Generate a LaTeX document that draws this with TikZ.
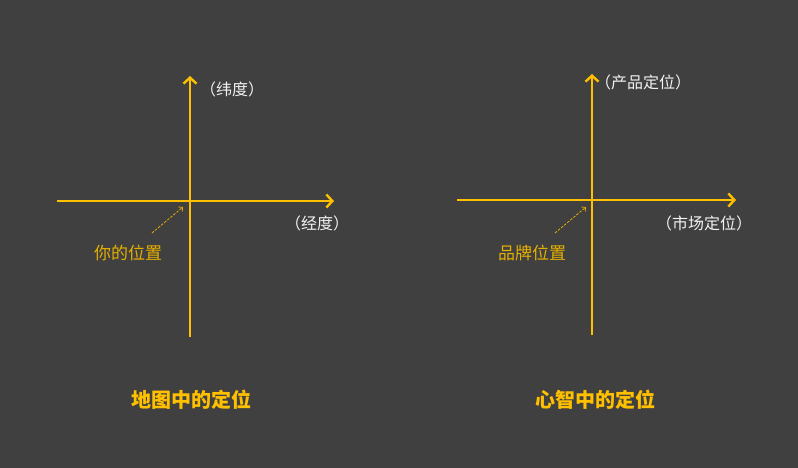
\documentclass[tikz,border=0pt]{standalone}
\usepackage{fontspec}
\newfontfamily\cjk{Noto Sans CJK SC}
\usetikzlibrary{arrows.meta}
\definecolor{bg}{HTML}{404040}
\definecolor{axisyellow}{HTML}{FFC000}
\definecolor{labelwhite}{HTML}{F2F2F2}
\definecolor{posyellow}{HTML}{E6B000}
\tikzset{
  axis/.style={draw=axisyellow, line width=2.8pt, -{Straight Barb[length=6pt,width=13pt,line width=2.4pt]}},
  pointer/.style={draw=posyellow, line width=0.8pt, dash pattern=on 2.5pt off 1.5pt, -{Straight Barb[length=3pt,width=6pt,line width=0.8pt]}},
  axislabel/.style={text=labelwhite, font=\cjk\fontsize{16pt}{16pt}\selectfont, inner sep=0pt},
  poslabel/.style={text=posyellow, font=\cjk\fontsize{17pt}{17pt}\selectfont, inner sep=0pt},
  titlelabel/.style={text=axisyellow, font=\cjk\bfseries\fontsize{20pt}{20pt}\selectfont, inner sep=0pt}
}
\begin{document}
\begin{tikzpicture}[x=1pt,y=-1pt]
\fill[bg] (0,0) rectangle (798,468);
\useasboundingbox (0,0) rectangle (798,468);
% left diagram
\coordinate (lvb) at (190,337);
\coordinate (lvt) at (190,76);
\coordinate (lhl) at (57,201);
\coordinate (lhr) at (334,201);
\draw[axis] (lvb) -- (lvt);
\draw[axis] (lhl) -- (lhr);
\node[axislabel] (lat) at (232,89) {（纬度）};
\node[axislabel] (lon) at (317,223) {（经度）};
\node[poslabel] (you) at (128,253) {你的位置};
\coordinate (lps) at (152,233);
\coordinate (lpe) at (183,207);
\draw[pointer] (lps) -- (lpe);
\node[titlelabel] (lt) at (191,400) {地图中的定位};
% right diagram
\coordinate (rvb) at (592,335);
\coordinate (rvt) at (592,74);
\coordinate (rhl) at (457,200);
\coordinate (rhr) at (736,200);
\draw[axis] (rvb) -- (rvt);
\draw[axis] (rhl) -- (rhr);
\node[axislabel] (prod) at (643,82) {（产品定位）};
\node[axislabel] (mkt) at (704,223) {（市场定位）};
\node[poslabel] (brand) at (532,253) {品牌位置};
\coordinate (rps) at (555,233);
\coordinate (rpe) at (586,207);
\draw[pointer] (rps) -- (rpe);
\node[titlelabel] (rt) at (595,400) {心智中的定位};
\end{tikzpicture}
\end{document}
